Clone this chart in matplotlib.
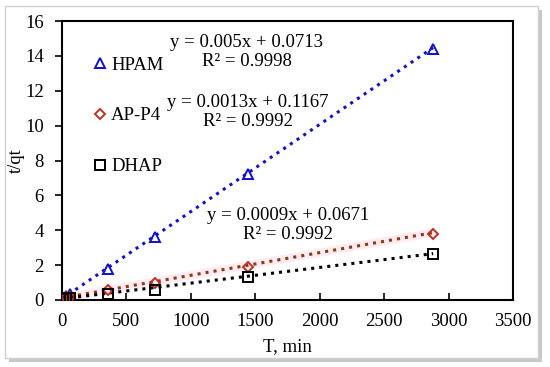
import matplotlib
matplotlib.use("Agg")
import matplotlib.pyplot as plt
from matplotlib.patches import Rectangle
import numpy as np

plt.rcParams['font.family'] = ['Liberation Serif', 'DejaVu Serif']

time_min = [10, 30, 60, 360, 720, 1440, 2880]
hpam = [0.12, 0.22, 0.37, 1.8, 3.6, 7.2, 14.4]
ap_p4 = [0.13, 0.16, 0.2, 0.55, 0.95, 1.9, 3.8]
dhap = [0.08, 0.1, 0.12, 0.35, 0.6, 1.3, 2.65]

fits = {
    'HPAM': (0.005, 0.0713, 0.9998),
    'AP-P4': (0.0013, 0.1167, 0.9992),
    'DHAP': (0.0009, 0.0671, 0.9992),
}

FS = 13.5

fig = plt.figure(figsize=(5.5, 3.67), dpi=100)
# outer frame with shadow
fig.patches.append(Rectangle((9/550, 1 - 362/367), 533/550, 352/367, transform=fig.transFigure,
                             facecolor='#c8c8c8', edgecolor='none', zorder=0))
fig.patches.append(Rectangle((5/550, 1 - 358/367), 533/550, 352/367, transform=fig.transFigure,
                             facecolor='white', edgecolor='#d0d0d0', lw=1, zorder=0.5))

ax = fig.add_axes([62/550, 1 - 300/367, (513 - 62)/550, (300 - 21)/367])
ax.set_zorder(2)

xs = np.array([0, 2880])
series = [('HPAM', hpam, '^', '#1010d0', '#1010d0'),
          ('AP-P4', ap_p4, 'D', '#c03020', '#8b3a10'),
          ('DHAP', dhap, 's', 'black', 'black')]
for name, vals, m, mc, lc in series:
    k, b, r2 = fits[name]
    if name == 'AP-P4':
        ax.plot(xs, k * xs + b, '-', color='#ffd8e8', lw=6, alpha=0.5, zorder=1)
    ax.plot(xs, k * xs + b, ':', color=lc, lw=2.2, zorder=2)
    ax.plot(time_min, vals, m, mfc='none', mec=mc, mew=1.4,
            ms=7 if m != 'D' else 5.5, linestyle='none', zorder=3, label=name)

ax.set_xlim(0, 3500)
ax.set_ylim(0, 16)
ax.set_xticks(np.arange(0, 3501, 500))
ax.set_yticks(np.arange(0, 17, 2))
ax.tick_params(axis='x', direction='in', length=5, width=1.2, labelsize=FS, pad=9)
ax.tick_params(axis='y', direction='out', length=5, width=1.2, labelsize=FS, pad=8)
for s in ax.spines.values():
    s.set_linewidth(1.5)
ax.set_xlabel('T, min', fontsize=FS, labelpad=6)
ax.set_ylabel('t/qt', fontsize=FS, labelpad=0)

leg = ax.legend(loc='upper left', bbox_to_anchor=(0.055, 0.9), frameon=False,
                fontsize=FS, handlelength=0.6, handletextpad=0.3, labelspacing=1.8,
                borderaxespad=0)

ax.text(1435, 14.2, 'y = 0.005x + 0.0713\nR² = 0.9998',
        fontsize=FS, ha='center', va='center', linespacing=1.15)
ax.text(1443, 10.8, 'y = 0.0013x + 0.1167\nR² = 0.9992', fontsize=FS,
        ha='center', va='center', linespacing=1.15)
ax.text(1753, 4.3, 'y = 0.0009x + 0.0671\nR² = 0.9992', fontsize=FS,
        ha='center', va='center', linespacing=1.15)

fig.savefig('out.png', dpi=100)
